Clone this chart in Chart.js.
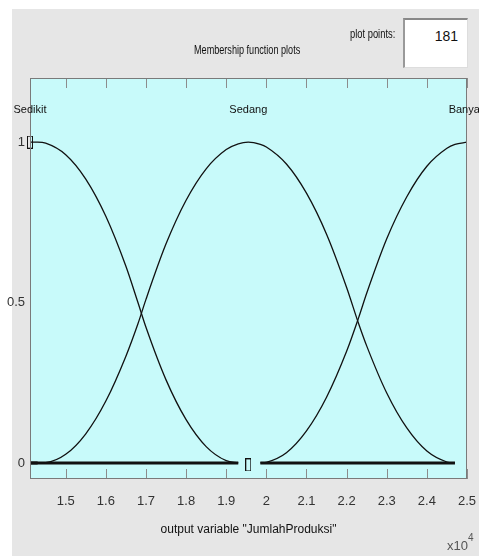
<!DOCTYPE html>
<html>
<head>
<meta charset="utf-8">
<script src="https://cdn.jsdelivr.net/npm/chart.js@4.4.0/dist/chart.umd.min.js"></script>
<style>
  html, body { margin: 0; background: #fff; overflow: hidden; }
  #wrap { position: relative; width: 479px; height: 556px; overflow: hidden; font-family: 'Liberation Sans', Arial, sans-serif; color: #111; }
  #myChart { position: absolute; left: 0; top: 0; }
  .txt { position: absolute; white-space: nowrap; }
  #title { left: 194px; top: 42px; font-size: 13px; transform: scaleX(0.7); transform-origin: left top; }
  #ppLabel { left: 350px; top: 26px; font-size: 13px; transform: scaleX(0.72); transform-origin: left top; }
  #ppBox { left: 403px; top: 18px; width: 65px; height: 50px; background: #fff;
           border-top: 2px solid #888; border-left: 2px solid #999; border-right: 1px solid #ddd; border-bottom: 1px solid #ddd;
           box-sizing: border-box; text-align: right; padding: 8px 9px 0 0; font-size: 14px; }
  #expo { left: 447px; top: 536px; font-size: 13px; color: #555; }
  #expo sup { font-size: 10px; position: relative; top: -4px; }
</style>
</head>
<body>
<div id="wrap">
  <canvas id="myChart" width="479" height="556"></canvas>
  <div class="txt" id="title">Membership function plots</div>
  <div class="txt" id="ppLabel">plot points:</div>
  <div class="txt" id="ppBox">181</div>
  <div class="txt" id="expo">x10<sup>4</sup></div>
</div>
<script>
// x positions of the sampled points
const xValues = [14110, 14300, 14500, 15000, 15500, 16000, 16500, 16800, 17000, 17500, 18000, 18500, 19000, 19300,
                 19550, 19850, 20000, 20500, 21000, 21500, 22000, 22300, 22500, 23000, 23500, 24000, 24500, 24700, 25000];

// membership values (null = gap)
const sedikit = [1, 1, 0.997, 0.961, 0.885, 0.769, 0.613, 0.5, 0.423, 0.259, 0.135, 0.051, 0.007, 0,
                 null, 0, 0, 0, 0, 0, 0, 0, 0, 0, 0, 0, 0, 0, null];
const sedang = [0, 0, 0.001, 0.027, 0.091, 0.193, 0.333, 0.434, 0.51, 0.683, 0.819, 0.917, 0.977, 0.995,
                1, 0.993, 0.985, 0.932, 0.841, 0.713, 0.547, 0.434, 0.365, 0.218, 0.109, 0.037, 0.003, 0, null];
const banyak = [0, 0, 0, 0, 0, 0, 0, 0, 0, 0, 0, 0, 0, 0,
                null, 0, 0.002, 0.032, 0.1, 0.205, 0.348, 0.453, 0.529, 0.699, 0.83, 0.925, 0.981, 0.993, 1];

// names of the membership functions and where their labels sit
const mfNames = ['Sedikit', 'Sedang', 'Banyak'];
const mfLabelX = [14110, 19550, 25000];
const mfLabelY = 1.1;

// small selection markers
const markerX = [14110, 19550];
const markerY = [1, -0.006];

// axis ticks
const xTicks = [15000, 16000, 17000, 18000, 19000, 20000, 21000, 22000, 23000, 24000, 25000];
const xTickLabels = ['1.5', '1.6', '1.7', '1.8', '1.9', '2', '2.1', '2.2', '2.3', '2.4', '2.5'];
const yTicks = [0, 0.5, 1];
const yTickLabels = ['0', '0.5', '1'];

const fontFam = "'Liberation Sans', Arial, sans-serif";

function toPoints(ys) {
    return xValues.map((x, i) => ({ x: x, y: ys[i] }));
}

// thicker line where the curve lies on zero
function zeroWidth(ctx) {
    return (ctx.p0.parsed.y === 0 && ctx.p1.parsed.y === 0) ? 3 : 1.3;
}

function curve(label, ys) {
    return {
        label: label,
        data: toPoints(ys),
        borderColor: '#111',
        borderWidth: 1.3,
        pointRadius: 0,
        cubicInterpolationMode: 'monotone',
        spanGaps: false,
        segment: { borderWidth: zeroWidth }
    };
}

// outline box used for the markers
const markBox = document.createElement('canvas');
markBox.width = 6;
markBox.height = 13;
(function () {
    const c = markBox.getContext('2d');
    c.strokeStyle = '#111';
    c.lineWidth = 1;
    c.strokeRect(0.5, 0.5, 5, 12);
})();

const panelPlugin = {
    id: 'panel',
    beforeDraw(chart) {
        const c = chart.ctx;
        const a = chart.chartArea;
        c.save();
        c.fillStyle = '#ffffff';
        c.fillRect(0, 0, chart.width, chart.height);
        c.fillStyle = '#e6e6e6';
        c.fillRect(12, 9, chart.width - 12, chart.height - 9);
        c.fillStyle = '#c8fafa';
        c.fillRect(a.left, a.top, a.right - a.left, a.bottom - a.top);
        c.restore();
    },
    afterDatasetsDraw(chart) {
        const c = chart.ctx;
        const a = chart.chartArea;
        const xs = chart.scales.x;
        const ys = chart.scales.y;
        c.save();
        // inward ticks top and bottom
        c.strokeStyle = '#8c8c8c';
        c.lineWidth = 1;
        xTicks.forEach(v => {
            const px = Math.round(xs.getPixelForValue(v)) + 0.5;
            c.beginPath();
            c.moveTo(px, a.bottom);
            c.lineTo(px, a.bottom - 10);
            c.moveTo(px, a.top);
            c.lineTo(px, a.top + 10);
            c.stroke();
        });
        // axes box
        c.strokeStyle = '#7a7a7a';
        c.strokeRect(a.left + 0.5, a.top + 0.5, a.right - a.left - 1, a.bottom - a.top - 1);
        // membership function names
        c.fillStyle = '#111';
        c.font = '11px ' + fontFam;
        c.textAlign = 'center';
        c.textBaseline = 'middle';
        mfNames.forEach((n, i) => {
            c.fillText(n, xs.getPixelForValue(mfLabelX[i]), ys.getPixelForValue(mfLabelY));
        });
        c.restore();
    }
};

function initializeChart() {
    const ctx = document.getElementById('myChart').getContext('2d');

    const datasets = [
        curve(mfNames[0], sedikit),
        curve(mfNames[1], sedang),
        curve(mfNames[2], banyak),
        {
            label: 'markers',
            data: markerX.map((x, i) => ({ x: x, y: markerY[i] })),
            showLine: false,
            pointStyle: markBox,
            pointRadius: 6,
            clip: false
        }
    ];

    new Chart(ctx, {
        type: 'line',
        data: { datasets: datasets },
        options: {
            responsive: false,
            animation: false,
            layout: { padding: { top: 78, right: 12, left: 0, bottom: 0 } },
            plugins: { legend: { display: false }, tooltip: { enabled: false } },
            scales: {
                x: {
                    type: 'linear',
                    min: 14110,
                    max: 25000,
                    afterBuildTicks: s => { s.ticks = xTicks.map(v => ({ value: v })); },
                    afterFit: s => { s.height = 77; s.paddingLeft = 0; s.paddingRight = 0; },
                    grid: { display: false, drawTicks: false },
                    border: { display: false },
                    ticks: {
                        autoSkip: false,
                        maxRotation: 0,
                        padding: 15,
                        color: '#333',
                        font: { family: fontFam, size: 13 },
                        callback: (v, i) => xTickLabels[i]
                    },
                    title: {
                        display: true,
                        text: 'output variable "JumlahProduksi"',
                        color: '#111',
                        font: { family: fontFam, size: 12 },
                        padding: { top: 0, bottom: 19 }
                    }
                },
                y: {
                    min: -0.05,
                    max: 1.2,
                    afterBuildTicks: s => { s.ticks = yTicks.map(v => ({ value: v })); },
                    afterFit: s => { s.width = 30; s.paddingTop = 0; s.paddingBottom = 0; },
                    grid: { display: false, drawTicks: false },
                    border: { display: false },
                    ticks: {
                        padding: 5,
                        color: '#333',
                        font: { family: fontFam, size: 13 },
                        callback: (v, i) => yTickLabels[i]
                    }
                }
            }
        },
        plugins: [panelPlugin]
    });
}

initializeChart();
</script>
</body>
</html>
